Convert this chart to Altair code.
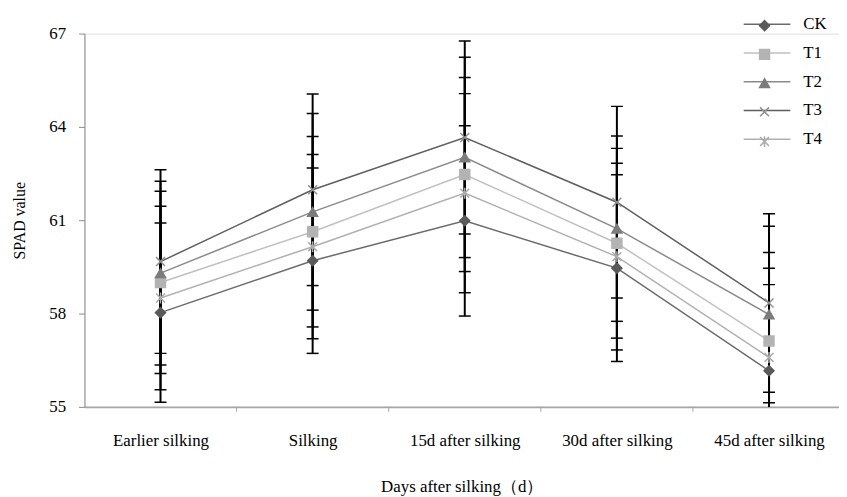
import altair as alt
import pandas as pd

cats = ["Earlier silking", "Silking", "15d after silking", "30d after silking", "45d after silking"]
series = ["CK", "T1", "T2", "T3", "T4"]

CK = [58.03, 59.70, 60.98, 59.46, 56.16]
T1 = [59.00, 60.63, 62.47, 60.26, 57.12]
T2 = [59.30, 61.27, 63.02, 60.73, 57.97]
T3 = [59.67, 61.98, 63.66, 61.58, 58.34]
T4 = [58.50, 60.15, 61.87, 59.83, 56.59]

CK_err = [2.88, 2.98, 3.06, 3.00, 2.77]
T1_err = [2.93, 3.06, 3.12, 3.05, 2.84]
T2_err = [2.95, 3.16, 3.22, 2.98, 2.84]
T3_err = [2.95, 3.08, 3.10, 3.08, 2.87]
T4_err = [2.95, 2.96, 3.20, 3.00, 2.87]

y_ticks = [55, 58, 61, 64, 67]

line_colors = ["#6a6a6a", "#c0c0c0", "#8a8a8a", "#5e5e5e", "#b0b0b0"]
marker_colors = ["#5a5a5a", "#b3b3b3", "#7c7c7c", "#909090", "#ababab"]
shapes = ["diamond", "square", "triangle-up",
          "M-0.9,-0.9L0.9,0.9M-0.9,0.9L0.9,-0.9",
          "M-0.9,-0.9L0.9,0.9M-0.9,0.9L0.9,-0.9M0,-1.1L0,1.1"]

vals = {"CK": CK, "T1": T1, "T2": T2, "T3": T3, "T4": T4}
errs = {"CK": CK_err, "T1": T1_err, "T2": T2_err, "T3": T3_err, "T4": T4_err}

rows = []
for s in series:
    for i, c in enumerate(cats):
        v = vals[s][i]
        e = errs[s][i]
        rows.append({"series": s, "name": s, "cat": c, "i": i, "v": v,
                     "lo": v - e, "hi": v + e})
df = pd.DataFrame(rows)
bounds = pd.DataFrame({"b": [i + 0.5 for i in range(len(cats) - 1)]})

W, H = 760, 376
FONT = "Liberation Serif"

label_expr = "[" + ",".join("'" + c + "'" for c in cats) + "][datum.value]"

xscale = alt.Scale(domain=[-0.5, 4.46], nice=False, zero=False)
yscale = alt.Scale(domain=[55, 67], nice=False, zero=False)

x_enc = alt.X("i:Q", scale=xscale,
              axis=alt.Axis(values=list(range(len(cats))), labelExpr=label_expr,
                            ticks=False, grid=False, domainColor="#a6a6a6", domainWidth=2,
                            labelFont=FONT, labelFontSize=17, labelColor="#000",
                            labelPadding=26, title="Days after silking（d）",
                            titleFont=FONT, titleFontSize=17, titleFontWeight="normal",
                            titleColor="#000", titlePadding=30))
y_axis = alt.Axis(values=y_ticks, grid=False, domainColor="#8c8c8c", tickColor="#8c8c8c",
                  tickSize=6, labelFont=FONT, labelFontSize=17, labelColor="#000",
                  labelPadding=13, title="SPAD value", titleFont=FONT, titleFontSize=16,
                  titleFontWeight="normal", titleColor="#000", titlePadding=21)

base = alt.Chart(df)

err_rule = base.mark_rule(color="#000", strokeWidth=2, clip=True).encode(
    x=x_enc, y=alt.Y("lo:Q", scale=yscale, axis=y_axis), y2="hi:Q")
cap_hi = base.mark_tick(orient="horizontal", size=12, thickness=1.5, color="#000",
                        opacity=1, clip=True).encode(
    x="i:Q", y=alt.Y("hi:Q"))
cap_lo = base.mark_tick(orient="horizontal", size=12, thickness=1.5, color="#000",
                        opacity=1, clip=True).encode(
    x="i:Q", y=alt.Y("lo:Q"))

legA = alt.Legend(title=None, orient="none", legendX=679, legendY=-18,
                  symbolType="M-4.7,0L4.7,0", symbolSize=100, symbolStrokeWidth=1.5,
                  labelFont=FONT, labelFontSize=17, labelColor="#000", labelOffset=28,
                  rowPadding=11)
lines = base.mark_line(strokeWidth=1.5).encode(
    x="i:Q", y="v:Q",
    stroke=alt.Stroke("name:N", scale=alt.Scale(range=line_colors), legend=legA))

legB = alt.Legend(title=None, orient="none", legendX=679, legendY=-14,
                  symbolSize=100, symbolStrokeWidth=1.5,
                  labelExpr="''", labelFontSize=1, labelOffset=0,
                  rowPadding=12.95)
points = base.mark_point(filled=False, size=100, strokeWidth=1.5, opacity=1).encode(
    x="i:Q", y="v:Q",
    color=alt.Color("series:N", scale=alt.Scale(range=marker_colors), legend=legB),
    fill=alt.Fill("series:N", scale=alt.Scale(range=marker_colors), legend=legB),
    shape=alt.Shape("series:N", scale=alt.Scale(range=shapes), legend=legB))

bticks = alt.Chart(bounds).mark_rule(color="#a6a6a6", strokeWidth=1).encode(
    x="b:Q", y=alt.value(H), y2=alt.value(H + 5))

chart = alt.layer(err_rule, cap_hi, cap_lo, lines, points, bticks).properties(
    width=W, height=H,
    padding={"left": 77, "top": 24, "right": 0, "bottom": 89},
    autosize=alt.AutoSizeParams(type="none"),
).configure_view(stroke=None).configure(background="#ffffff")

chart.save("out.html", embed_options={"renderer": "svg", "actions": False})
